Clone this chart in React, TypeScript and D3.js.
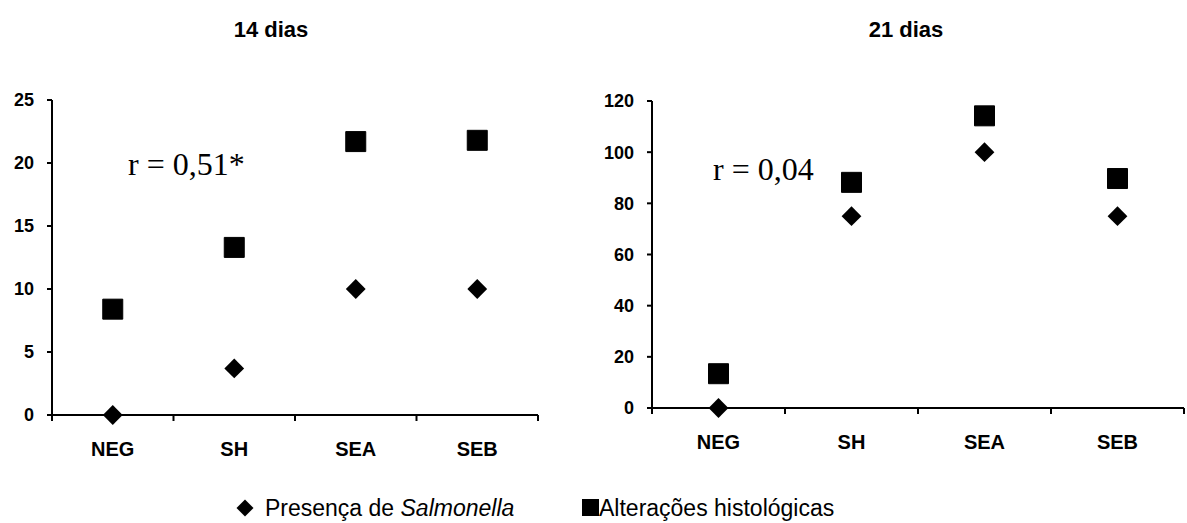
import React from "react";
import * as d3 from "d3";

const categories = ["NEG", "SH", "SEA", "SEB"];
const salmonella14 = [0, 3.7, 10, 10];
const histo14 = [8.4, 13.3, 21.7, 21.8];
const salmonella21 = [0, 75, 100, 75];
const histo21 = [13.4, 88.2, 114.2, 89.7];
const yTicks14 = [0, 5, 10, 15, 20, 25];
const yTicks21 = [0, 20, 40, 60, 80, 100, 120];
const titles = ["14 dias", "21 dias"];
const rLabels = ["r = 0,51*", "r = 0,04"];

const W = 1187;
const H = 523;

type PanelProps = {
  x0: number; x1: number; yTop: number; yBot: number; max: number;
  ticks: number[]; sal: number[]; his: number[]; title: string; titleX: number;
  rLabel: string; rX: number; rY: number; labelGap: number;
};

const diamondPath = d3.symbol().type(d3.symbolSquare).size(14 * 14)() as string;
const squarePath = d3.symbol().type(d3.symbolSquare).size(20 * 20)() as string;

function Panel(p: PanelProps) {
  const x = d3.scaleBand<string>().domain(categories).range([p.x0, p.x1]);
  const y = d3.scaleLinear().domain([0, p.max]).range([p.yBot, p.yTop]);
  const bounds = [...categories.map((c) => x(c) as number), p.x1];
  return (
    <g>
      <text x={p.titleX} y={37} textAnchor="middle" fontFamily="Liberation Sans, Arial, sans-serif" fontWeight="bold" fontSize={22}>{p.title}</text>
      <line x1={p.x0} x2={p.x0} y1={y(p.max)} y2={y(0)} stroke="#000" strokeWidth={2} />
      <line x1={p.x0} x2={p.x1} y1={y(0)} y2={y(0)} stroke="#000" strokeWidth={2} />
      {p.ticks.map((t) => (
        <g key={t}>
          <line x1={p.x0 - 5} x2={p.x0} y1={y(t)} y2={y(t)} stroke="#000" strokeWidth={2} />
          <text x={p.x0 - p.labelGap} y={y(t)} dy="0.36em" textAnchor="end" fontFamily="Liberation Sans, Arial, sans-serif" fontWeight="bold" fontSize={18}>{t}</text>
        </g>
      ))}
      {bounds.map((b, i) => (
        <line key={i} x1={b} x2={b} y1={y(0)} y2={y(0) + 6} stroke="#000" strokeWidth={2} />
      ))}
      {categories.map((c) => (
        <text key={c} x={(x(c) as number) + x.bandwidth() / 2} y={y(0) + 41} textAnchor="middle" fontFamily="Liberation Sans, Arial, sans-serif" fontWeight="bold" fontSize={20}>{c}</text>
      ))}
      <text x={p.rX} y={p.rY} fontFamily="Liberation Serif, Times New Roman, serif" fontSize={32}>{p.rLabel}</text>
      {p.his.map((v, i) => (
        <path key={"h" + i} d={squarePath} transform={`translate(${(x(categories[i]) as number) + x.bandwidth() / 2},${y(v)})`} fill="#000" stroke="#000" strokeWidth={1} strokeLinejoin="round" />
      ))}
      {p.sal.map((v, i) => (
        <path key={"s" + i} d={diamondPath} transform={`translate(${(x(categories[i]) as number) + x.bandwidth() / 2},${y(v)}) rotate(45)`} fill="#000" />
      ))}
    </g>
  );
}

export default function App() {
  const legDiamond = d3.symbol().type(d3.symbolSquare).size(12 * 12)() as string;
  return (
    <svg width={W} height={H} style={{ position: "absolute", left: 0, top: 0, background: "#fff" }}>
      <rect width={W} height={H} fill="#fff" />
      <Panel x0={52} x1={538} yTop={100} yBot={415} max={25} ticks={yTicks14} sal={salmonella14} his={histo14}
        title={titles[0]} titleX={271} rLabel={rLabels[0]} rX={128} rY={175} labelGap={18} />
      <Panel x0={652} x1={1184} yTop={101} yBot={408} max={120} ticks={yTicks21} sal={salmonella21} his={histo21}
        title={titles[1]} titleX={906} rLabel={rLabels[1]} rX={713} rY={180} labelGap={18} />
      <g fontFamily="Liberation Sans, Arial, sans-serif" fontSize={23}>
        <path d={legDiamond} transform="translate(245,508) rotate(45)" fill="#000" />
        <text x={265} y={516}>Presença de <tspan fontStyle="italic">Salmonella</tspan></text>
        <rect x={582} y={499} width={17} height={17} fill="#000" />
        <text x={599} y={516}>Alterações histológicas</text>
      </g>
    </svg>
  );
}
